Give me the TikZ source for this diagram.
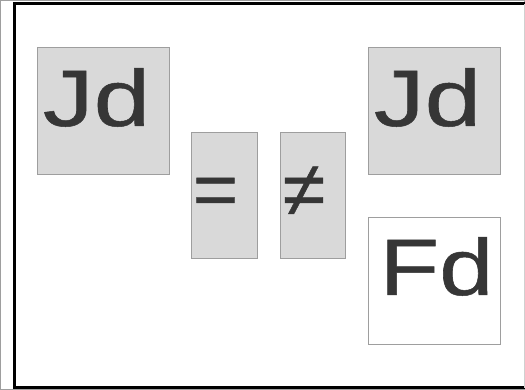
\documentclass[tikz,border=0pt]{standalone}
\usepackage{fontspec}
\setmainfont{Liberation Sans}
\newfontfamily\heavy[FakeBold=0.6]{Liberation Sans}
\definecolor{boxfill}{HTML}{D9D9D9}
\definecolor{boxline}{HTML}{9E9E9E}
\definecolor{ink}{HTML}{363636}
\definecolor{edge}{HTML}{D0D0D0}
\begin{document}
\begin{tikzpicture}[x=1pt,y=1pt,
  card/.style={draw=boxline, line width=1.2pt, anchor=south west, inner sep=0pt},
  grey/.style={card, fill=boxfill},
  white/.style={card, fill=white},
  big/.style={text=ink, inner sep=0pt, anchor=base, font=\heavy\fontsize{80}{80}\selectfont},
  sym/.style={text=ink, inner sep=0pt, anchor=base, font=\heavy\fontsize{78}{78}\selectfont}]
\useasboundingbox (0,0) rectangle (525,390);
\fill[white] (0,0) rectangle (525,390);
% frame
\draw[line width=3pt] (525,386) -- (14,386) -- (14,2) -- (525,2);
\draw[edge, line width=1pt] (524,2) -- (524,386);
% boxes
\node[grey, minimum width=132, minimum height=127] (b1) at (37,215) {};
\node[grey, minimum width=66, minimum height=126] (b2) at (191,131) {};
\node[grey, minimum width=65, minimum height=126] (b3) at (280,131) {};
\node[grey, minimum width=132, minimum height=127] (b4) at (368,215) {};
\node[white, minimum width=132, minimum height=127] (b5) at (368,45) {};
% texts
\node[big] (t1) at (96.5,264) {\scalebox{1.27}[1]{Jd}};
\node[big] (t4) at (427.5,264) {\scalebox{1.27}[1]{Jd}};
\node[big] (t5) at (436.5,95) {\scalebox{1.22}[1]{Fd}};
\node[sym] (t2) at (215.5,174) {=};
\node[sym] (t3) at (304,174) {≠};
\end{tikzpicture}
\end{document}
